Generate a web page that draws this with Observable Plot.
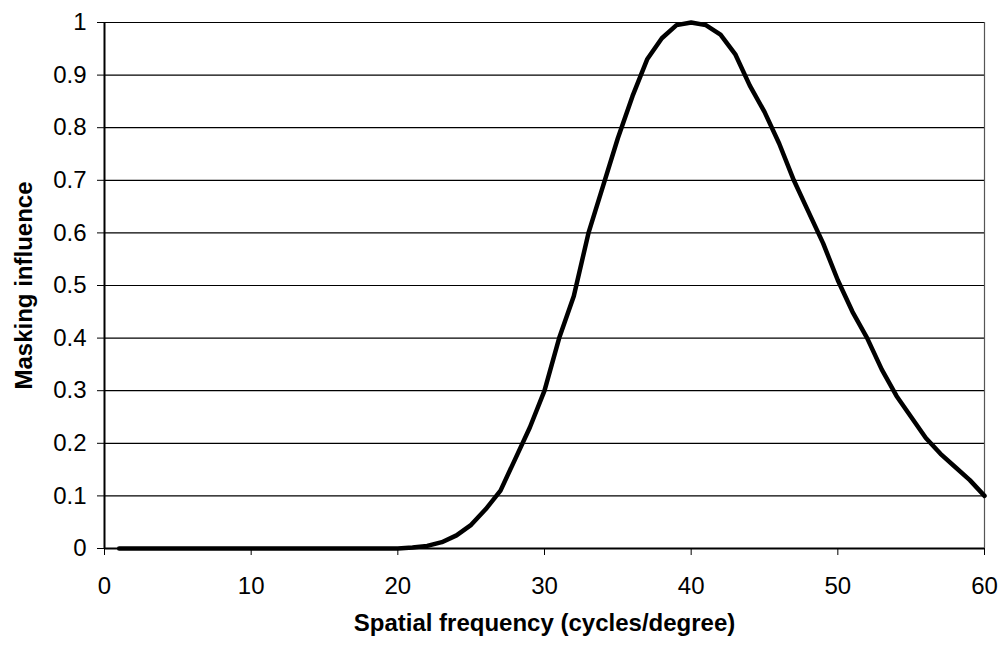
<!DOCTYPE html>
<html>
<head>
<meta charset="utf-8">
<script src="https://cdn.jsdelivr.net/npm/d3@7"></script>
<script src="https://cdn.jsdelivr.net/npm/@observablehq/plot@0.6"></script>
<style>
  html, body { margin: 0; padding: 0; background: #fff; }
</style>
</head>
<body>
<div id="chart"></div>
<script>
const freq = Array.from({length: 60}, (_, i) => i + 1);
const influence = [
  0, 0, 0, 0, 0, 0, 0, 0, 0, 0,
  0, 0, 0, 0, 0, 0, 0, 0, 0, 0,
  0.002, 0.005, 0.012, 0.025, 0.045, 0.075, 0.11, 0.17, 0.23, 0.30,
  0.40, 0.48, 0.60, 0.69, 0.78, 0.86, 0.93, 0.97, 0.995, 1.0,
  0.995, 0.977, 0.94, 0.88, 0.83, 0.77, 0.70, 0.64, 0.58, 0.51,
  0.45, 0.40, 0.34, 0.29, 0.25, 0.21, 0.18, 0.155, 0.13, 0.10
];
const xTicks = [0, 10, 20, 30, 40, 50, 60];
const yTicks = [0, 0.1, 0.2, 0.3, 0.4, 0.5, 0.6, 0.7, 0.8, 0.9, 1];
const xLabel = "Spatial frequency (cycles/degree)";
const yLabel = "Masking influence";

const data = freq.map((f, i) => ({f, v: influence[i]}));

const chart = Plot.plot({
  width: 1001,
  height: 648,
  marginLeft: 104,
  marginRight: 17,
  marginTop: 22,
  marginBottom: 100,
  style: {fontFamily: "'Liberation Sans', Arial, sans-serif", fontSize: "24px", color: "#000", background: "#fff"},
  x: {domain: [0, 60]},
  y: {domain: [0, 1]},
  marks: [
    Plot.gridY(yTicks, {stroke: "#000", strokeOpacity: 1, strokeWidth: 1.2}),
    Plot.ruleX([60], {stroke: "#555", strokeWidth: 1.2}),
    Plot.axisX(xTicks, {tickSize: 7, tickPadding: 21, fontSize: 24, label: null, stroke: "#000"}),
    Plot.axisY(yTicks, {tickSize: 7, tickPadding: 11, fontSize: 24, label: null, tickFormat: d => String(d), stroke: "#000"}),
    Plot.ruleY([0], {stroke: "#000", strokeWidth: 2}),
    Plot.ruleX([0], {stroke: "#000", strokeWidth: 2}),
    Plot.line(data, {x: "f", y: "v", stroke: "#000", strokeWidth: 4.5, strokeLinejoin: "round", strokeLinecap: "round"}),
    Plot.text([xLabel], {frameAnchor: "bottom", dy: 82, fontSize: 24, fontWeight: "bold"}),
    Plot.text([yLabel], {frameAnchor: "left", textAnchor: "middle", dx: -80, rotate: -90, fontSize: 24, fontWeight: "bold"})
  ]
});
document.getElementById("chart").appendChild(chart);
</script>
</body>
</html>
